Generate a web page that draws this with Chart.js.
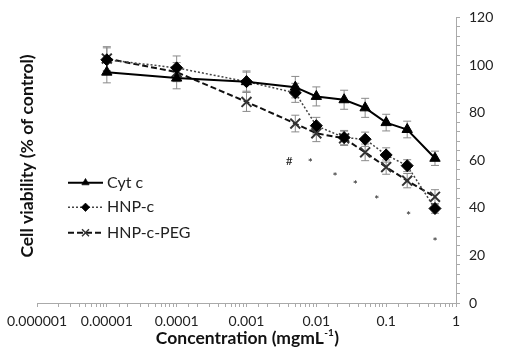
<!DOCTYPE html>
<html>
<head>
<meta charset="utf-8">
<script src="https://cdn.jsdelivr.net/npm/chart.js@4/dist/chart.umd.min.js"></script>
<style>
  html, body { margin: 0; padding: 0; background: #fff; }
  #wrap { width: 512px; height: 349px; position: relative; }
</style>
</head>
<body>
<div id="wrap"><canvas id="chart"></canvas></div>
<script>
// concentrations (mg/mL)
const concentrations = [0.00001, 0.0001, 0.001, 0.005, 0.01, 0.025, 0.05, 0.1, 0.2, 0.5];

// cell viability (% of control) and error bars
const cytC = [97, 94.5, 93, 90.7, 86.8, 85.4, 82, 75.8, 72.9, 60.8];
const cytCErr = [4.5, 4.5, 4.5, 4.5, 4, 4, 4, 3.5, 3.5, 3];
const hnpC = [102.2, 98.8, 93, 88.3, 74.5, 69.5, 68.8, 62.2, 57.7, 39.7];
const hnpCErr = [5, 5, 4, 4, 3.5, 3, 3, 3, 2.5, 2];
const hnpCPeg = [102.7, 97, 84.5, 75.4, 71.3, 69.2, 63.3, 57.1, 51.4, 44.6];
const hnpCPegErr = [5, 4, 4, 3.5, 3.5, 3, 3.5, 3, 3, 3];

// significance marks
const markText = ['#', '*', '*', '*', '*', '*', '*'];
const markX = [0.0041, 0.0082, 0.0186, 0.036, 0.0735, 0.209, 0.5];
const markY = [59.7, 59.5, 53.9, 50.3, 44.2, 37.2, 26.4];

const xTickLabels = ['0.000001', '0.00001', '0.0001', '0.001', '0.01', '0.1', '1'];
const seriesNames = ['Cyt c', 'HNP-c', 'HNP-c-PEG'];

const FONT = 'Lato, "Open Sans", sans-serif';

function toPoints(ys)
{
    return concentrations.map((x, i) => ({x: x, y: ys[i]}));
}

const errorSets = [cytCErr, hnpCErr, hnpCPegErr];

// vertical error bars
const errorBars = {
    id: 'errorBars',
    beforeDatasetsDraw(chart)
    {
        const ctx = chart.ctx;
        const xs = chart.scales.x;
        const ys = chart.scales.y;
        ctx.save();
        ctx.strokeStyle = '#8a8a8a';
        ctx.lineWidth = 1;
        chart.data.datasets.forEach((ds, d) => {
            ds.data.forEach((p, i) => {
                const e = errorSets[d][i];
                const px = xs.getPixelForValue(p.x);
                const top = ys.getPixelForValue(p.y + e);
                const bot = ys.getPixelForValue(p.y - e);
                ctx.beginPath();
                ctx.moveTo(px, top); ctx.lineTo(px, bot);
                ctx.moveTo(px - 4, top); ctx.lineTo(px + 4, top);
                ctx.moveTo(px - 4, bot); ctx.lineTo(px + 4, bot);
                ctx.stroke();
            });
        });
        ctx.restore();
    }
};

// #, * marks, axis titles and the legend
const extras = {
    id: 'extras',
    afterDraw(chart)
    {
        const ctx = chart.ctx;
        const xs = chart.scales.x;
        const ys = chart.scales.y;
        ctx.save();
        ctx.fillStyle = '#222';
        ctx.textAlign = 'center';
        ctx.textBaseline = 'middle';
        for (let i = 0; i < markText.length; i++)
        {
            ctx.font = (markText[i] === '#' ? '12px ' : '12px ') + FONT;
            ctx.fillText(markText[i], xs.getPixelForValue(markX[i]), ys.getPixelForValue(markY[i]) + (markText[i] === '*' ? 2 : 0));
        }

        // y title (left)
        ctx.fillStyle = '#111';
        ctx.font = 'bold 17.5px ' + FONT;
        ctx.save();
        ctx.translate(27, 156);
        ctx.rotate(-Math.PI / 2);
        ctx.fillText('Cell viability (% of control)', 0, 0);
        ctx.restore();

        // x title with superscript
        const main = 'Concentration (mgmL';
        const sup = '-1';
        const close = ')';
        ctx.font = 'bold 17.5px ' + FONT;
        const w1 = ctx.measureText(main).width;
        const w3 = ctx.measureText(close).width;
        ctx.font = 'bold 10px ' + FONT;
        const w2 = ctx.measureText(sup).width;
        let x0 = 247 - (w1 + w2 + w3) / 2;
        const yb = 338;
        ctx.textAlign = 'left';
        ctx.font = 'bold 17.5px ' + FONT;
        ctx.fillText(main, x0, yb);
        ctx.font = 'bold 10px ' + FONT;
        ctx.fillText(sup, x0 + w1 + 0.5, yb - 5);
        ctx.font = 'bold 17.5px ' + FONT;
        ctx.fillText(close, x0 + w1 + w2 + 1, yb);

        // legend
        const legendY = [182.7, 207.3, 232.7];
        chart.data.datasets.forEach((ds, d) => {
            const y = legendY[d];
            ctx.save();
            ctx.strokeStyle = ds.borderColor;
            ctx.lineWidth = ds.borderWidth;
            ctx.setLineDash(ds.borderDash || []);
            ctx.beginPath();
            ctx.moveTo(68, y); ctx.lineTo(103, y);
            ctx.stroke();
            ctx.restore();
            ctx.save();
            ctx.fillStyle = ds.pointBackgroundColor;
            ctx.strokeStyle = ds.pointBorderColor;
            ctx.lineWidth = ds.pointBorderWidth * 0.7;
            Chart.helpers.drawPoint(ctx, {
                pointStyle: ds.pointStyle,
                radius: ds.pointRadius * 0.7,
                rotation: 0,
                borderWidth: ds.pointBorderWidth * 0.7
            }, 85.5, y);
            ctx.restore();
            ctx.fillStyle = '#222';
            ctx.font = '16px ' + FONT;
            ctx.textAlign = 'left';
            ctx.fillText(ds.label, 107, y);
        });
        ctx.restore();
    }
};

new Chart(document.getElementById('chart'), {
    type: 'line',
    data: {
        datasets: [
            {
                label: seriesNames[0],
                data: toPoints(cytC),
                borderColor: '#000',
                borderWidth: 2,
                pointStyle: 'triangle',
                pointRadius: 6,
                pointBackgroundColor: '#000',
                pointBorderColor: '#000',
                pointBorderWidth: 1
            },
            {
                label: seriesNames[1],
                data: toPoints(hnpC),
                borderColor: '#444',
                borderWidth: 1.5,
                borderDash: [2, 2],
                pointStyle: 'rectRot',
                pointRadius: 6,
                pointBackgroundColor: '#000',
                pointBorderColor: '#000',
                pointBorderWidth: 1
            },
            {
                label: seriesNames[2],
                data: toPoints(hnpCPeg),
                borderColor: '#111',
                borderWidth: 2,
                borderDash: [6, 3],
                pointStyle: 'crossRot',
                pointRadius: 7,
                pointBackgroundColor: '#555',
                pointBorderColor: '#333',
                pointBorderWidth: 2
            }
        ]
    },
    options: {
        responsive: true,
        maintainAspectRatio: false,
        animation: false,
        layout: { padding: { left: 37, top: 14, right: 0, bottom: 0 } },
        plugins: {
            legend: { display: false },
            tooltip: { enabled: false }
        },
        scales: {
            x: {
                type: 'logarithmic',
                min: 0.000001,
                max: 1,
                afterFit: scale => { scale.height = 46; },
                border: { color: '#aaa', width: 1 },
                grid: { display: true, drawOnChartArea: false, drawTicks: true, tickLength: 4, color: '#aaa' },
                ticks: {
                    autoSkip: false,
                    maxRotation: 0,
                    padding: 6,
                    color: '#222',
                    font: { family: FONT, size: 14 },
                    callback: function(value) {
                        const e = Math.log10(value);
                        if (Math.abs(e - Math.round(e)) < 1e-6)
                        {
                            return xTickLabels[Math.round(e) + 6];
                        }
                        return '';
                    }
                }
            },
            y: {
                position: 'right',
                min: 0,
                max: 120,
                afterFit: scale => { scale.width = 56; },
                border: { color: '#aaa', width: 1 },
                grid: { display: true, drawOnChartArea: false, drawTicks: true, tickLength: 4, color: '#aaa' },
                ticks: {
                    stepSize: 4,
                    autoSkip: false,
                    padding: 9,
                    color: '#222',
                    font: { family: FONT, size: 14 },
                    callback: function(value) {
                        return value % 20 === 0 ? value : '';
                    }
                }
            }
        }
    },
    plugins: [errorBars, extras]
});
</script>
</body>
</html>
